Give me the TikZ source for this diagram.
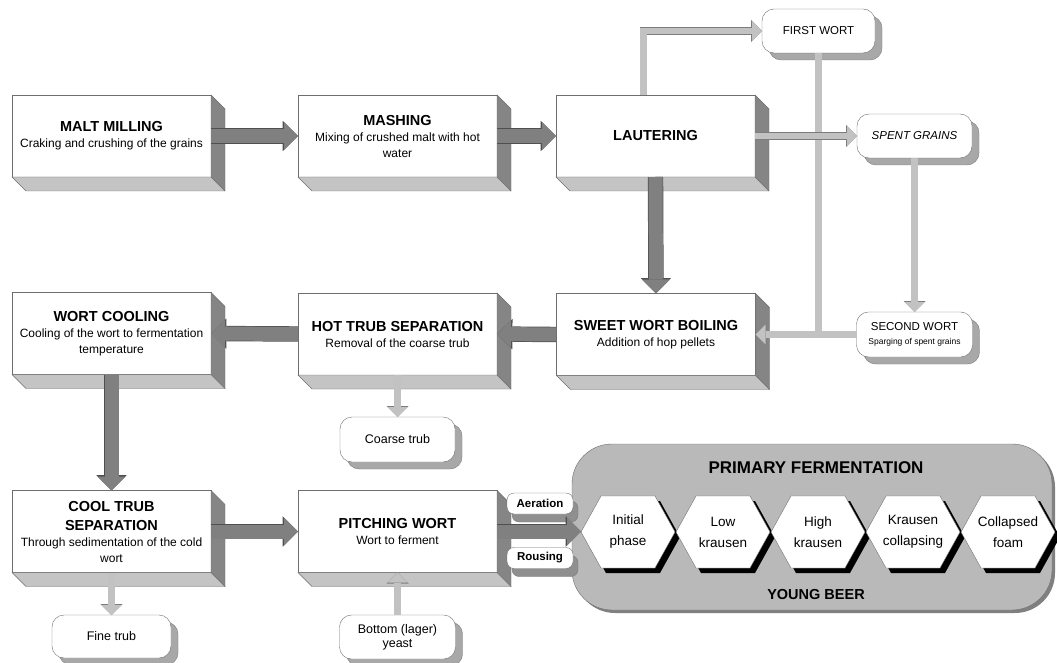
\documentclass[tikz,border=0pt]{standalone}
\usepackage{fontspec}
\setmainfont{Liberation Sans}
\usetikzlibrary{arrows.meta,calc,shadows}

\definecolor{boxline}{HTML}{6E6E6E}
\definecolor{sidedark}{HTML}{858585}
\definecolor{sidelight}{HTML}{C4C4C4}
\definecolor{flowdark}{HTML}{808080}
\definecolor{flowdarkline}{HTML}{505050}
\definecolor{flowlight}{HTML}{C2C2C2}
\definecolor{flowlightline}{HTML}{7C7C7C}
\definecolor{tagshadow}{HTML}{A8A8A8}
\definecolor{fermgray}{HTML}{B9B9B9}

\newcommand{\stagehead}[1]{{\fontsize{14.5}{18}\selectfont\bfseries #1}}

\tikzset{
  stage/.style={draw=boxline, fill=white, minimum width=199pt, minimum height=82pt,
    inner sep=0pt, outer sep=0pt, align=center, font=\fontsize{12}{16}\selectfont},
  tagbase/.style={draw=boxline, fill=white, inner sep=0pt, outer sep=0pt, align=center},
  tag/.style={tagbase, rounded corners=12pt, font=\fontsize{11.5}{14}\selectfont,
    drop shadow={shadow xshift=7pt, shadow yshift=-7pt, fill=tagshadow, draw=flowlightline, opacity=1}},
  smalltag/.style={tagbase, rounded corners=7pt, font=\bfseries\fontsize{11.5}{14}\selectfont,
    minimum width=66pt, minimum height=21pt,
    drop shadow={shadow xshift=5pt, shadow yshift=-8pt, fill=tagshadow!85!black, draw=flowlightline, opacity=1}},
  ferm/.style={draw=boxline, fill=fermgray, rounded corners=40pt, minimum width=480pt, minimum height=166pt,
    drop shadow={shadow xshift=3pt, shadow yshift=-3pt, fill=flowdark, opacity=1}},
  phase/.style={align=center, inner sep=0pt, font=\fontsize{13.5}{21}\selectfont},
  mainflow/.style={draw=flowdark, line width=14pt, -{Triangle[length=14pt,width=28pt,line width=0pt]},
    preaction={draw=flowdarkline, line width=15.4pt, -{Triangle[length=15.4pt,width=30.4pt,line width=0pt]}}},
  sideflow/.style={draw=flowlight, line width=6.5pt, -{Triangle[length=10pt,width=20pt,line width=0pt]},
    preaction={draw=flowlightline, line width=7.7pt, -{Triangle[length=11pt,width=22pt,line width=0pt]}}},
  sidejoin/.style={draw=flowlight, line width=6.5pt, preaction={draw=flowlightline, line width=7.7pt}},
}

\begin{document}
\begin{tikzpicture}[x=1pt, y=-1pt]

\useasboundingbox (0,0) rectangle (1057,663);

% Process stages
\node[stage] (malt)  at (111.5,136)   {\stagehead{MALT MILLING}\\Craking and crushing of the grains};
\node[stage] (mash)  at (397.5,136)   {\stagehead{MASHING}\\Mixing of crushed malt with hot\\water};
\node[stage] (laut)  at (655.5,136)   {\stagehead{LAUTERING}};
\node[stage] (cool)  at (111.5,333.5) {\stagehead{WORT COOLING}\\Cooling of the wort to fermentation\\temperature};
\node[stage] (hot)   at (397.5,334)   {\stagehead{HOT TRUB SEPARATION}\\Removal of the coarse trub};
\node[stage] (sweet) at (656,334.5)   {\stagehead{SWEET WORT BOILING}\\Addition of hop pellets};
\node[stage] (sep)   at (111.5,531.5) {\stagehead{COOL TRUB}\\[3pt]\stagehead{SEPARATION}\\Through sedimentation of the cold\\wort};
\node[stage] (pitch) at (397.5,531.5) {\stagehead{PITCHING WORT}\\Wort to ferment};

% Side and bottom faces
\foreach \b in {malt,mash,laut,cool,hot,sweet,sep,pitch}{
  \filldraw[fill=sidedark, draw=boxline] (\b.north east) -- ++(14,14) -- ($(\b.south east)+(14,14)$) -- (\b.south east) -- cycle;
  \filldraw[fill=sidelight, draw=boxline] (\b.south west) -- ++(14,14) -- ($(\b.south east)+(14,14)$) -- (\b.south east) -- cycle;
}

% By-products
\node[tag, minimum width=113pt, minimum height=44pt] (first)  at (818.5,31)  {FIRST WORT};
\node[tag, minimum width=115pt, minimum height=44pt] (spent)  at (914.5,136) {\itshape SPENT GRAINS};
\node[tag, minimum width=116pt, minimum height=45pt] (second) at (914.5,334.5)
  {SECOND WORT\\{\fontsize{8.5}{10}\selectfont Sparging of spent grains}};
\node[tag, minimum width=115pt, minimum height=45pt, font=\fontsize{12.5}{14}\selectfont] (coarse) at (397.5,439.5) {Coarse trub};
\node[tag, minimum width=119pt, minimum height=43pt, font=\fontsize{12.5}{14}\selectfont] (fine)   at (111.5,636.5) {Fine trub};
\node[tag, minimum width=116pt, minimum height=44pt, font=\fontsize{12.5}{14}\selectfont] (yeast)  at (397.5,637)   {Bottom (lager)\\yeast};

% Primary fermentation
\node[ferm] (fermbox) at (812,527) {};
\node[font=\bfseries\fontsize{17}{20}\selectfont] (fermtitle) at (816,468) {PRIMARY FERMENTATION};
\node[font=\bfseries\fontsize{14.5}{17}\selectfont] (beer) at (816,595) {YOUNG BEER};

\foreach \name/\txt [count=\i from 0] in {init/{Initial\\phase}, low/{Low\\krausen}, high/{High\\krausen},
    fall/{Krausen\\collapsing}, foam/{Collapsed\\foam}}{
  \coordinate (c) at ({628+95*\i},532);
  \fill[black] ($(c)+(5,5)$) +(-47,0) -- +(-27,-36) -- +(27,-36) -- +(47,0) -- +(27,36) -- +(-27,36) -- cycle;
  \filldraw[fill=white, draw=boxline] (c) +(-47,0) -- +(-27,-36) -- +(27,-36) -- +(47,0) -- +(27,36) -- +(-27,36) -- cycle;
  \node[phase] (\name) at (c) {\txt};
}
\coordinate (hexin) at ($(init)+(-47,0)$);

\node[smalltag] (aer)  at (540,503.5) {Aeration};
\node[smalltag] (rous) at (540,558)   {Rousing};

% Main flow
\draw[mainflow] (malt.east) -- (mash.west);
\draw[mainflow] (mash.east) -- (laut.west);
\draw[mainflow] (laut.south) -- (sweet.north);
\draw[mainflow] (sweet.west) -- (hot.east);
\draw[mainflow] (hot.west) -- (cool.east);
\draw[mainflow] (cool.south) -- (sep.north);
\draw[mainflow] (sep.east) -- (pitch.west);
\draw[mainflow] (pitch.east) -- (pitch.east -| hexin);

% Side flows
\coordinate (join) at (first.south |- second.west);
\draw[sidejoin] (second.west) -- (join);
\draw[sideflow] (first.south) |- (sweet.east);
\draw[sideflow] ($(laut.north)+(-12,0)$) |- (first.west);
\draw[sideflow] (laut.east) -- (spent.west);
\draw[sideflow] (spent.south) -- (second.north);
\draw[sideflow] (hot.south) -- (coarse.north);
\draw[sideflow] (sep.south) -- (sep.south |- fine.north);
\draw[sideflow] (yeast.north) -- (yeast.north |- pitch.south);

\end{tikzpicture}
\end{document}
